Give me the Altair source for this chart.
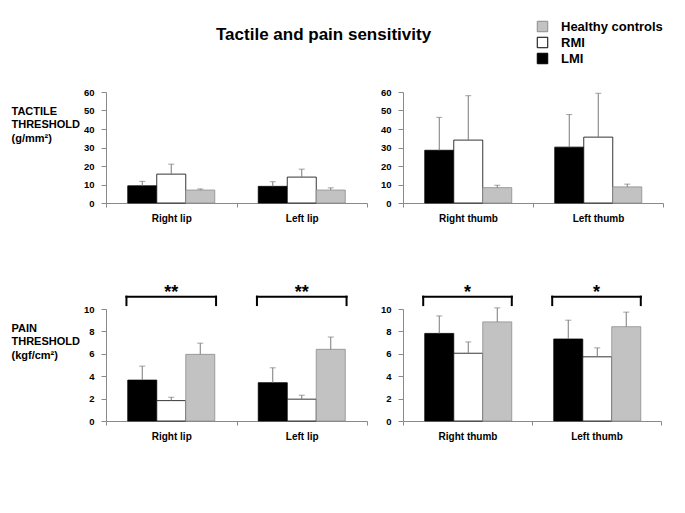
import altair as alt
import pandas as pd

# ---------------- data ----------------
groups = ["LMI", "RMI", "Healthy controls"]          # bar order
legend_order = ["Healthy controls", "RMI", "LMI"]    # legend order
lip_sites = ["Right lip", "Left lip"]
thumb_sites = ["Right thumb", "Left thumb"]

# order: site1 (LMI, RMI, HC), site2 (LMI, RMI, HC)
tactile_lip_mean = [9.3, 15.6, 7.0, 9.0, 14.0, 7.0]
tactile_lip_upper = [11.7, 21.0, 7.6, 11.5, 18.3, 8.2]
tactile_thumb_mean = [28.5, 34.0, 8.3, 30.2, 35.6, 8.7]
tactile_thumb_upper = [46.3, 58.0, 9.6, 47.8, 59.3, 10.2]
pain_lip_mean = [3.65, 1.82, 5.95, 3.42, 1.95, 6.40]
pain_lip_upper = [4.90, 2.12, 6.95, 4.75, 2.30, 7.50]
pain_thumb_mean = [7.82, 6.05, 8.85, 7.32, 5.73, 8.42]
pain_thumb_upper = [9.38, 7.06, 10.10, 9.00, 6.53, 9.72]
pain_lip_sig = ["**", "**"]
pain_thumb_sig = ["*", "*"]

tactile_title = ["TACTILE", "THRESHOLD", "(g/mm²)"]
pain_title = ["PAIN", "THRESHOLD", "(kgf/cm²)"]


def make_df(sites, means, uppers):
    rows = []
    k = 0
    for s in sites:
        for g in groups:
            rows.append({"site": s, "group": g, "mean": means[k], "upper": uppers[k]})
            k += 1
    return pd.DataFrame(rows)


# ---------------- style ----------------
FONT = "Liberation Sans"
PAD = 0.75
FILL_RANGE = ["#c2c2c2", "#ffffff", "#000000"]
STROKE_RANGE = ["#8c8c8c", "#000000", "#000000"]
AXIS_GRAY = "#8a8a8a"
ERR_GRAY = "#7a7a7a"


def panel(df, sites, ymax, step, width, height, row_title=None, sig=None):
    ax_kw = dict(values=list(range(0, ymax + 1, step)), tickSize=5, labelPadding=7,
                 grid=False, domainColor=AXIS_GRAY, tickColor=AXIS_GRAY, labelOverlap=False,
                 labelFontSize=9.5, labelFontWeight="bold", labelColor="black")
    if row_title:
        ax_kw.update(title=row_title, titleAngle=0, titleAlign="left",
                     titleBaseline="alphabetic", titleX=-95, titleY=22,
                     titleFontSize=11, titleFontWeight="bold", titleLineHeight=13.5,
                     titleColor="black")
    else:
        ax_kw.update(title=None)
    y_axis = alt.Axis(**ax_kw)
    yscale = alt.Scale(domain=[0, ymax], nice=False)

    x = alt.X("site:N", sort=sites, scale=alt.Scale(paddingInner=0, paddingOuter=0),
              axis=alt.Axis(title=None, labelAngle=0, tickBand="extent", tickSize=4,
                            labelPadding=6, domainColor=AXIS_GRAY, tickColor=AXIS_GRAY,
                            labelFontSize=10, labelFontWeight="bold", labelColor="black"))
    xo = alt.XOffset("group:N", sort=groups,
                     scale=alt.Scale(paddingInner=0, paddingOuter=PAD))

    base = alt.Chart(df)
    bars = base.mark_bar(strokeWidth=0.8).encode(
        x=x, xOffset=xo,
        y=alt.Y("mean:Q", scale=yscale, axis=y_axis),
        fill=alt.Fill("group:N", scale=alt.Scale(domain=legend_order, range=FILL_RANGE),
                      legend=alt.Legend(title=None, orient="none", legendX=430, legendY=-72,
                                        symbolType="square", symbolSize=110,
                                        symbolStrokeColor="black", symbolStrokeWidth=1,
                                        labelFontSize=13, labelFontWeight="bold",
                                        labelOffset=12, rowPadding=1, padding=0,
                                        labelColor="black")),
        stroke=alt.Stroke("group:N", scale=alt.Scale(domain=legend_order, range=STROKE_RANGE),
                          legend=None),
    )
    err = base.mark_rule(color=ERR_GRAY, strokeWidth=1).encode(
        x=x, xOffset=xo,
        y=alt.Y("mean:Q", scale=yscale, axis=y_axis), y2="upper:Q")
    cap = base.mark_tick(color=ERR_GRAY, thickness=1, size=6).encode(
        x=x, xOffset=xo, y=alt.Y("upper:Q", scale=yscale, axis=y_axis))
    inner = alt.layer(bars, err, cap)

    if sig:
        bdf = pd.DataFrame({"i": list(range(len(sig))), "sig": sig})
        frac = PAD / (3 + 2 * PAD) - 0.01
        bb = alt.Chart(bdf).transform_calculate(
            bl=f"datum.i + {frac}", br=f"datum.i + 1 - {frac}", mid="datum.i + 0.5")

        def xq(f):
            return alt.X(f"{f}:Q", scale=alt.Scale(domain=[0, len(sites)], nice=False, zero=False),
                         axis=None)

        def yd(v):
            return alt.YDatum(v, axis=y_axis, scale=yscale)

        def y2d(v):
            return alt.Y2Datum(v)

        top = bb.mark_rule(strokeWidth=2, color="black", strokeCap="square").encode(
            x=xq("bl"), x2="br:Q", y=yd(11.1))
        legl = bb.mark_rule(strokeWidth=2, color="black", strokeCap="square").encode(
            x=xq("bl"), y=yd(10.35), y2=y2d(11.1))
        legr = bb.mark_rule(strokeWidth=2, color="black", strokeCap="square").encode(
            x=xq("br"), y=yd(10.35), y2=y2d(11.1))
        stars = bb.mark_text(fontSize=18, fontWeight="bold", baseline="alphabetic",
                             color="black").encode(
            x=xq("mid"), y=yd(11.0), text="sig:N")
        ann = alt.layer(top, legl, legr, stars)
        return alt.layer(inner, ann).resolve_scale(x="independent").properties(
            width=width, height=height)
    return inner.properties(width=width, height=height)


p1 = panel(make_df(lip_sites, tactile_lip_mean, tactile_lip_upper), lip_sites, 60, 10,
           261, 111, row_title=tactile_title)
p2 = panel(make_df(thumb_sites, tactile_thumb_mean, tactile_thumb_upper), thumb_sites, 60, 10,
           260, 111)
p3 = panel(make_df(lip_sites, pain_lip_mean, pain_lip_upper), lip_sites, 10, 2,
           261, 112, row_title=pain_title, sig=pain_lip_sig)
p4 = panel(make_df(thumb_sites, pain_thumb_mean, pain_thumb_upper), thumb_sites, 10, 2,
           258, 112, sig=pain_thumb_sig)

chart = alt.concat(
    p1, p2, p3, p4, columns=2, spacing={"row": 106, "column": 36}, bounds="flush",
    title=alt.TitleParams("Tactile and pain sensitivity", fontSize=17, fontWeight="bold",
                          anchor="start", frame="group", dx=110, offset=-24, color="black"),
    padding={"left": 3, "top": 12, "right": 5, "bottom": 5},
).configure(font=FONT).configure_view(stroke=None)

chart.save("out.html", embed_options={"renderer": "svg", "actions": False})
